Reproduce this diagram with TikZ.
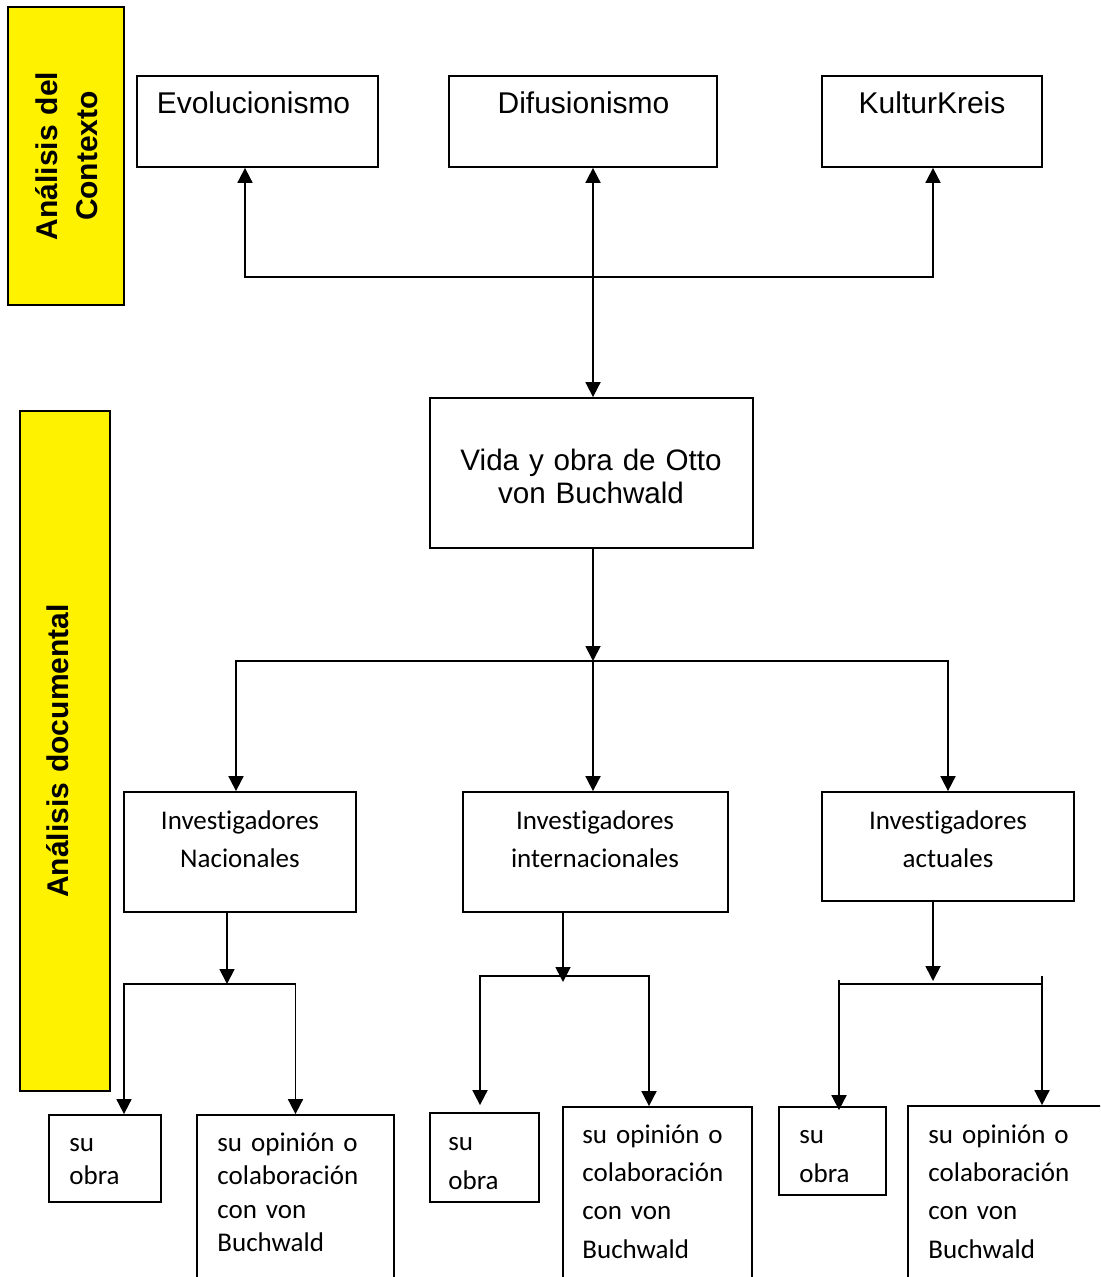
\documentclass[tikz,border=0pt]{standalone}
\usepackage{fontspec}
\setmainfont{Liberation Sans}
\newfontfamily\calib[Ligatures=NoCommon]{Carlito}
\usetikzlibrary{arrows.meta}
\tikzset{arr/.style = {line width=0.9pt, -{Triangle[length=7.5pt, width=7.5pt]}}}
\tikzset{link/.style = {line width=0.9pt}}
\tikzset{box/.style = {draw, line width=0.9pt, inner sep=0}}
\tikzset{band/.style = {draw, fill=yellow, line width=0.9pt, inner sep=0}}
\tikzset{bandtext/.style = {rotate=90, anchor=base, inner sep=0, text width=160pt, align=center,
                            font=\bfseries\fontsize{15}{20}\selectfont}}
\tikzset{toptext/.style = {anchor=base, inner sep=0, text width=#1, align=center,
                           font=\fontsize{15}{16.5}\selectfont}}
\tikzset{midtext/.style = {anchor=base, inner sep=0, text width=120pt, align=center,
                           font=\calib\fontsize{13.5}{19}\selectfont}}
\tikzset{leaftext/.style = {anchor=base west, inner sep=0, text width=95pt, align=left,
                            font=\calib\fontsize{13.5}{#1}\selectfont}}

\begin{document}
\begin{tikzpicture}[x=0.5pt, y=-0.5pt]
  \clip (0,0) rectangle (1100,1277);

  % bandas amarillas
  \node [band, minimum width=58pt, minimum height=149pt] (ctxband) at (66,156) {};
  \node [bandtext] at (57,156) {Análisis del\\Contexto};
  \node [band, minimum width=45pt, minimum height=340pt] (docband) at (65,751) {};
  \node [bandtext] at (68,751) {Análisis documental};

  % contexto
  \node [box, minimum width=120.5pt, minimum height=45.5pt] (evo) at (257.5,121.5) {};
  \node [toptext=120pt] at (253.5,114) {Evolucionismo};
  \node [box, minimum width=134pt, minimum height=45.5pt] (difu) at (583,121.5) {};
  \node [toptext=130pt] at (583.5,114) {Difusionismo};
  \node [box, minimum width=110pt, minimum height=45.5pt] (kultur) at (932,121.5) {};
  \node [toptext=108pt] at (932,114) {KulturKreis};

  \node [box, minimum width=161.5pt, minimum height=75pt] (vida) at (591.5,473) {};
  \node [toptext=160pt, font=\fontsize{14.8}{16.5}\selectfont] at (591,471) {Vida y obra de Otto\\von Buchwald};

  \coordinate (jtop) at (593,277);
  \draw [arr] (jtop) -| ([xshift=-6.25pt]evo.south);
  \draw [arr] (jtop) -- (jtop |- difu.south);
  \draw [arr] (jtop) -| ([xshift=0.5pt]kultur.south);
  \draw [arr] (jtop) -- (jtop |- vida.north);

  % investigadores
  \node [box, minimum width=116pt, minimum height=60pt] (nac) at (240,852) {};
  \node [midtext] at (240,829) {Investigadores\\Nacionales};
  \node [box, minimum width=132.5pt, minimum height=60pt] (intl) at (595.5,852) {};
  \node [midtext] at (595,829) {Investigadores\\internacionales};
  \node [box, minimum width=126pt, minimum height=54.5pt] (act) at (948,846.5) {};
  \node [midtext] at (948,829) {Investigadores\\actuales};

  \coordinate (jmid) at (593,661);
  \draw [arr] (vida.south -| jmid) -- (jmid);
  \draw [arr] (jmid) -| ([xshift=-2pt]nac.north);
  \draw [arr] (jmid) -- (jmid |- intl.north);
  \draw [arr] (jmid) -| (act.north);

  % su obra / su opinion
  \node [box, minimum width=56pt, minimum height=43.5pt] (obra1) at (105,1158.5) {};
  \node [leaftext=16.5pt] at (69,1151) {su\\obra};
  \node [box, minimum width=98.5pt, minimum height=92.5pt] (opin1) at (295.5,1207.5) {};
  \node [leaftext=16.8pt] at (217,1151) {su opinión o\\colaboración\\con von\\Buchwald};

  \node [box, minimum width=54.5pt, minimum height=44.5pt] (obra2) at (484.5,1157.5) {};
  \node [leaftext=19.5pt] at (448,1150) {su\\obra};
  \node [box, minimum width=94.5pt, minimum height=96.5pt] (opin2) at (657.5,1203.5) {};
  \node [leaftext=19.2pt] at (582,1143) {su opinión o\\colaboración\\con von\\Buchwald};

  \node [box, minimum width=53.5pt, minimum height=44pt] (obra3) at (832.5,1151) {};
  \node [leaftext=19.5pt] at (799,1143) {su\\obra};
  \node [box, minimum width=106pt, minimum height=97pt] (opin3) at (1014,1203) {};
  \node [leaftext=19.2pt] at (928,1143) {su opinión o\\colaboración\\con von\\Buchwald};

  \coordinate (jnac) at (227,984);
  \draw [arr] (jnac |- nac.south) -- (jnac);
  \draw [arr] (jnac) -| ([xshift=9.5pt]obra1.north);
  \draw [arr] (jnac) -| (opin1.north);

  \coordinate (jintl) at (563,976);
  \draw [arr] (jintl |- intl.south) -- ([yshift=-3pt]jintl);
  \draw [arr, shorten >=3.5pt] (jintl) -| ([xshift=-2.25pt]obra2.north);
  \draw [arr] (jintl) -| ([xshift=-4.25pt]opin2.north);

  \coordinate (jact) at (933,984);
  \coordinate (tickl) at (839,980);
  \coordinate (tickr) at (1042,976);
  \draw [arr] (jact |- act.south) -- ([yshift=1.5pt]jact);
  \draw [link] (tickl |- jact) -- (tickr |- jact);
  \draw [arr, shorten >=-2pt] (tickl) -- (tickl |- obra3.north);
  \draw [arr] (tickr) -- (tickr |- opin3.north);
\end{tikzpicture}
\end{document}
